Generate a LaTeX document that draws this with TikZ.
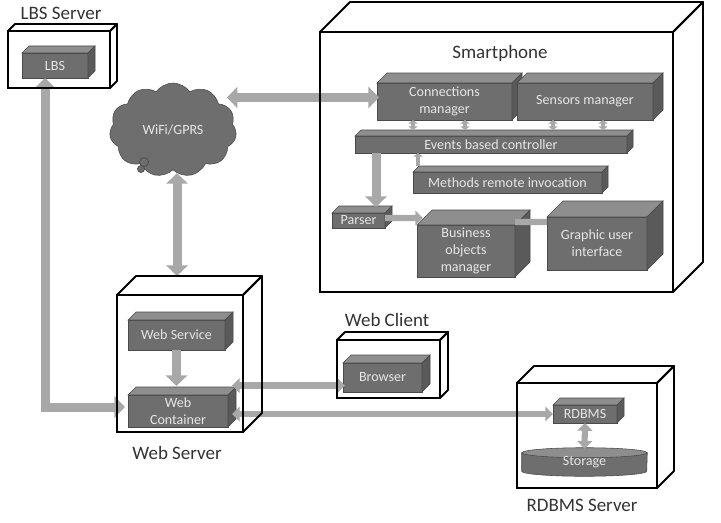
\documentclass[tikz,border=0pt]{standalone}
\usepackage{fontspec}
\setmainfont{Carlito}
\usetikzlibrary{shapes, shapes.symbols, calc, arrows.meta, positioning}

\pgfdeclarelayer{background}
\pgfdeclarelayer{links}
\pgfdeclarelayer{hosts}
\pgfsetlayers{background,main,links,hosts}

\newcommand{\pxl}{0.025cm}
% top and right face of a box node: node, depth, top style, side style
\newcommand{\boxfaces}[4]{%
  \path[#3] (#1.north west) -- ++(#2,#2) -- ($(#1.north east)+(#2,#2)$) -- (#1.north east) -- cycle;
  \path[#4] (#1.north east) -- ++(#2,#2) -- ($(#1.south east)+(#2,#2)$) -- (#1.south east) -- cycle;
}

\definecolor{boxfront}{HTML}{6E6E6E}
\definecolor{boxtop}{HTML}{8E8E8E}
\definecolor{boxside}{HTML}{5A5A5A}
\definecolor{boxedge}{HTML}{4A4A4A}
\definecolor{boxtext}{HTML}{E6E6E6}
\definecolor{linkgray}{HTML}{A8A8A8}
\definecolor{labelgray}{HTML}{333333}

\tikzset{
  boxsize/.style 2 args={minimum width=#1*\pxl, minimum height=#2*\pxl},
  comp/.style={draw=boxedge, line width=0.4pt, fill=boxfront, text=boxtext, inner sep=0pt, outer sep=0pt,
    align=center, font=\fontsize{10}{12.2}\selectfont},
  comptop/.style={draw=boxedge, line width=0.4pt, fill=boxtop},
  compside/.style={draw=boxedge, line width=0.4pt, fill=boxside},
  host/.style={draw=black, line width=1.3pt, inner sep=0pt, outer sep=0pt},
  hostface/.style={draw=black, line width=1.3pt, line join=round},
  hostlabel/.style={text=labelgray, font=\fontsize{13.5}{16}\selectfont},
  bigarrow/.style={draw=linkgray, line width=6.4pt, >={Triangle[width=15pt,length=7.5pt]}},
  midarrow/.style={draw=linkgray, line width=4.3pt, >={Triangle[width=10.5pt,length=5.5pt]}},
  smallarrow/.style={draw=linkgray, line width=2.6pt, >={Triangle[width=6.5pt,length=2.5pt]}},
}

\begin{document}
\begin{tikzpicture}[x=\pxl, y=\pxl]
\useasboundingbox (0,0) rectangle (721,522);

% hosts
\begin{pgfonlayer}{hosts}
\node[host, boxsize={102}{57}] (lbssrv) at (59,462.5) {};
\boxfaces{lbssrv}{7}{hostface}{hostface}
\node[host, boxsize={353}{260}] (phone) at (496.5,360) {};
\boxfaces{phone}{30}{hostface}{hostface}
\node[host, boxsize={126}{137}] (websrv) at (180,158.5) {};
\boxfaces{websrv}{19}{hostface}{hostface}
\node[host, boxsize={103}{58}] (webcli) at (388.5,153) {};
\boxfaces{webcli}{8}{hostface}{hostface}
\node[host, boxsize={140}{105}] (dbsrv) at (587,86.5) {};
\boxfaces{dbsrv}{17}{hostface}{hostface}
\end{pgfonlayer}

\node[hostlabel] (lbssrv-label) at (61,509) {LBS Server};
\node[hostlabel] (phone-label) at (500,469) {Smartphone};
\node[hostlabel] (websrv-label) at (177,69) {Web Server};
\node[hostlabel] (webcli-label) at (387,202) {Web Client};
\node[hostlabel] (dbsrv-label) at (582,17) {RDBMS Server};

% components
\node[comp, boxsize={66}{25}] (lbs) at (55,456.5) {LBS};
\boxfaces{lbs}{7}{comptop}{compside}
\node[comp, boxsize={135}{37}] (conn) at (444.5,420.5) {Connections\\manager};
\boxfaces{conn}{10}{comptop}{compside}
\node[comp, boxsize={136}{37}] (sens) at (585,420.5) {Sensors manager};
\boxfaces{sens}{10}{comptop}{compside}
\node[comp, boxsize={272}{17}] (ctrl) at (491,377.5) {Events based controller};
\boxfaces{ctrl}{6}{comptop}{compside}
\node[comp, boxsize={189}{21}] (methods) at (507.5,339.5) {Methods remote invocation};
\boxfaces{methods}{6}{comptop}{compside}
\node[comp, boxsize={53}{15}] (parser) at (358.5,301.5) {Parser};
\boxfaces{parser}{7}{comptop}{compside}
\node[comp, boxsize={98}{52}] (bom) at (466,271) {Business\\objects\\manager};
\boxfaces{bom}{15}{comptop}{compside}
\node[comp, boxsize={100}{53}] (gui) at (597,278.5) {Graphic user\\interface};
\boxfaces{gui}{16}{comptop}{compside}
\node[comp, boxsize={97}{30}] (wsvc) at (176.5,187) {Web Service};
\boxfaces{wsvc}{8}{comptop}{compside}
\node[comp, boxsize={100}{32}] (wcont) at (178,111) {Web\\Container};
\boxfaces{wcont}{8}{comptop}{compside}
\node[comp, boxsize={79}{29}] (browser) at (382.5,144.5) {Browser};
\boxfaces{browser}{8}{comptop}{compside}
\node[comp, boxsize={64}{18}] (rdbms) at (585,108) {RDBMS};
\boxfaces{rdbms}{7}{comptop}{compside}

\node[text=boxtext, font=\fontsize{10}{12}\selectfont, boxsize={125}{18}, inner sep=0pt] (storage) at (584.5,60) {Storage};

% cloud
\node[cloud, cloud puffs=11, cloud puff arc=110, cloud ignores aspect, boxsize={127}{94},
  fill=boxfront, draw=boxedge, line width=0.4pt, text=boxtext, font=\fontsize{10}{12}\selectfont] (cloud) at (173,392) {WiFi/GPRS};
\draw[boxedge, fill=boxfront, line width=0.5pt] (144,360) circle (4.5);
\draw[boxedge, fill=boxfront, line width=0.5pt] (141,353) circle (3.5);

\begin{pgfonlayer}{background}
\fill[white] (0,0) rectangle (721,522);
\path[draw=boxedge, line width=0.4pt, fill=boxfront] (storage.north west) -- (storage.south west)
  arc[start angle=180, end angle=360, x radius=62.5, y radius=5] -- (storage.north east) -- cycle;
\path[comptop] (storage.north) ellipse [x radius=62.5, y radius=5];
\end{pgfonlayer}

% links
\begin{pgfonlayer}{links}
\draw[bigarrow, <->] ($(cloud.east |- conn.west)+(-9,4)$) -- ($(conn.west)+(2,4)$);
\draw[bigarrow, <->] ($(cloud.south -| websrv.north)+(-3,-3)$) -- ($(websrv.north)+(-3,19)$);
\draw[bigarrow, <->] ($(lbs.south)+(-10,0)$) |- ($(wcont.west)+(-3,4)$);
\draw[bigarrow, ->] (wsvc.south) -- ($(wsvc.south |- wcont.north)+(0,9)$);
\draw[bigarrow, ->] ($(ctrl.south west)+(21,0)$) -- ($(parser.north west)+(44,6)$);
\draw[smallarrow, ->] ($(methods.north west)+(5,6)$) -- ($(ctrl.south west)+(63,0)$);
\foreach \n/\dx in {conn/36, conn/88, sens/36, sens/86}
  \draw[smallarrow, <->] ($(\n.south west)+(\dx,0)$) -- ($(\n.south west |- ctrl.north)+(\dx,6)$);
\draw[midarrow, ->] ($(parser.east)+(0,2.5)$) -- ($(bom.north west)+(6,7)$);
\draw[midarrow] ($(bom.north east)+(0,3)$) -- ($(gui.north west)+(0,-5)$);
\draw[midarrow, <->] ($(browser.west)+(2,-8)$) -- ($(wcont.east |- browser.west)+(4,-8)$);
\draw[midarrow, <->] ($(wcont.east |- rdbms.west)+(4,0)$) -- (rdbms.west);
\draw[midarrow, <->] (rdbms.south) -- ($(storage.north)+(0,4)$);
\end{pgfonlayer}

\end{tikzpicture}
\end{document}
